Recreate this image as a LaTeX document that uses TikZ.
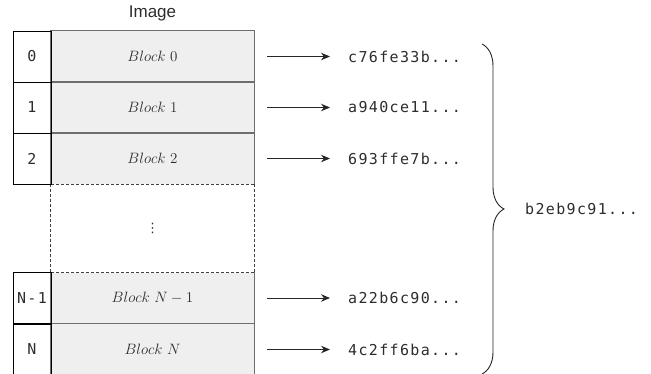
\RequirePackage{fix-cm}
\documentclass[tikz,border=0pt]{standalone}
\usepackage{fontspec}
\newfontfamily\hashfont[LetterSpace=9]{DejaVu Sans Mono}
\newfontfamily\labelfont{Liberation Sans}
\newfontfamily\symfont{DejaVu Sans}
\usetikzlibrary{decorations.pathreplacing,arrows.meta}
\definecolor{blockfill}{RGB}{239,239,239}
\definecolor{bordergray}{RGB}{110,110,110}
\definecolor{textgray}{RGB}{45,45,45}
\begin{document}
\begin{tikzpicture}[x=1pt,y=-1pt,
  idx/.style={draw=black, line width=0.85pt, minimum width=38pt, minimum height=51pt, inner sep=0pt,
    text=textgray, font=\hashfont\fontsize{15}{18}\selectfont},
  blk/.style={fill=blockfill, minimum width=203pt, minimum height=51pt, inner sep=0pt,
    text=textgray, font=\fontsize{15}{18}\selectfont},
  blkline/.style={draw=bordergray, line width=0.7pt},
  gapline/.style={draw=black!75, line width=0.7pt, dash pattern=on 3pt off 2pt},
  hash/.style={anchor=west, inner sep=0pt, text=textgray, font=\hashfont\fontsize{15}{18}\selectfont},
  arr/.style={-{Stealth[length=9pt,width=7.5pt]}, line width=0.9pt, black!85},
  bracestyle/.style={decorate, decoration={brace, amplitude=22pt}, line width=0.9pt, black!85}]
\useasboundingbox (0,0) rectangle (651,373);
% title
\node[font=\labelfont\fontsize{17}{20}\selectfont, text=textgray] (title) at (152.5,13) {Image};
% blocks (fill)
\node[blk] (b0) at (152.5,56.5) {$Block\ 0$};
\node[blk] (b1) at (152.5,107.5) {$Block\ 1$};
\node[blk] (b2) at (152.5,158.5) {$Block\ 2$};
\node[blk] (bN1) at (152.5,298) {$Block\ N-1$};
\node[blk] (bN) at (152.5,349.5) {$Block\ N$};
% block borders
\draw[blkline] (b0.south west) rectangle (b0.north east);
\draw[blkline] (b1.south west) rectangle (b1.north east);
\draw[blkline] (b2.south west) -- (b2.north west) -- (b2.north east) -- (b2.south east);
\draw[blkline] (bN1.north west) -- (bN1.south west) -- (bN1.south east) -- (bN1.north east);
\draw[blkline] (bN.south west) rectangle (bN.north east);
% gap
\draw[gapline] (b2.south west) -- (b2.south east);
\draw[gapline] (bN1.north west) -- (bN1.north east);
\draw[gapline] (b2.south west) -- (bN1.north west);
\draw[gapline] (b2.south east) -- (bN1.north east);
\node[font=\symfont\fontsize{13}{15}\selectfont, text=textgray, inner sep=0pt] (dots) at (152.5,228) {⋮};
% index column
\node[idx] (i0) at (32,56.5) {0};
\node[idx] (i1) at (32,107.5) {1};
\node[idx] (i2) at (32,158.5) {2};
\node[idx] (iN1) at (32,298) {N-1};
\node[idx] (iN) at (32,349.5) {N};
% hashes
\node[hash] (h0) at (348,56.5) {c76fe33b...};
\node[hash] (h1) at (348,107.5) {a940ce11...};
\node[hash] (h2) at (348,158.5) {693ffe7b...};
\node[hash] (hN1) at (348,298) {a22b6c90...};
\node[hash] (hN) at (348,349.5) {4c2ff6ba...};
% arrows
\draw[arr] ([xshift=13pt]b0.east) -- ([xshift=-18pt]h0.west);
\draw[arr] ([xshift=13pt]b1.east) -- ([xshift=-18pt]h1.west);
\draw[arr] ([xshift=13pt]b2.east) -- ([xshift=-18pt]h2.west);
\draw[arr] ([xshift=13pt]bN1.east) -- ([xshift=-18pt]hN1.west);
\draw[arr] ([xshift=13pt]bN.east) -- ([xshift=-18pt]hN.west);
% brace and root hash
\coordinate (bt) at (482,44);
\coordinate (bb) at (482,374);
\draw[bracestyle] (bt) -- (bb);
\node[hash] (root) at (525,209) {b2eb9c91...};
\end{tikzpicture}
\end{document}
